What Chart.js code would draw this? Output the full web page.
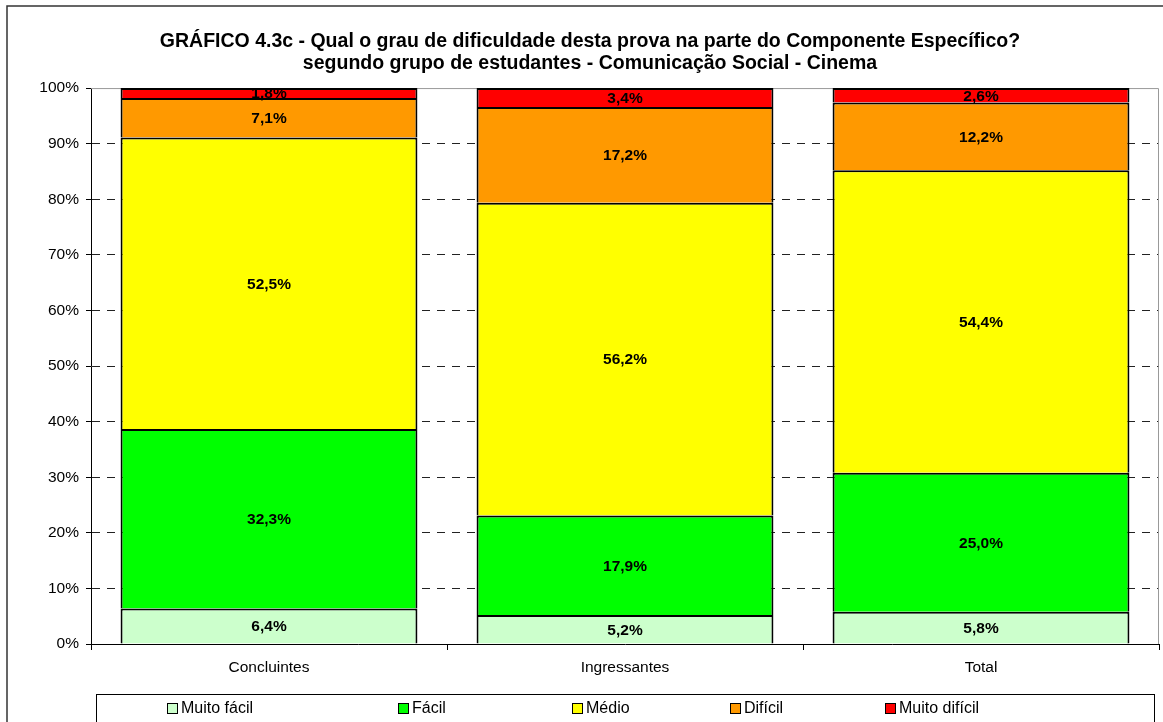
<!DOCTYPE html>
<html>
<head>
<meta charset="utf-8">
<script src="https://cdn.jsdelivr.net/npm/chart.js@4/dist/chart.umd.min.js"></script>
<style>
  html, body { margin: 0; padding: 0; background: #fff; }
  #wrap { width: 1163px; height: 722px; position: relative; }
</style>
</head>
<body>
<div id="wrap"><canvas id="grafico"></canvas></div>
<script>
// dados (percentuais)
var grupos = ["Concluintes", "Ingressantes", "Total"];
var muitoFacil = [6.4, 5.2, 5.8];
var facil = [32.3, 17.9, 25.0];
var medio = [52.5, 56.2, 54.4];
var dificil = [7.1, 17.2, 12.2];
var muitoDificil = [1.8, 3.4, 2.6];
var yTicks = [0, 10, 20, 30, 40, 50, 60, 70, 80, 90, 100];

var FONT = "'Liberation Sans', Arial, sans-serif";
var series = [muitoFacil, facil, medio, dificil, muitoDificil];

function fmt(v) {
  return v.toFixed(1).replace(".", ",") + "%";
}

// gráfico 100% empilhado: cada coluna é normalizada pelo seu total
var totais = grupos.map(function (g, j) {
  return series.reduce(function (s, arr) { return s + arr[j]; }, 0);
});
function normaliza(arr) {
  return arr.map(function (v, j) { return v / totais[j] * 100; });
}

// moldura externa e borda cinza da área de plotagem
var molduraPlugin = {
  id: "moldura",
  beforeDraw: function (chart) {
    var ctx = chart.ctx;
    ctx.save();
    ctx.fillStyle = "#fff";
    ctx.fillRect(0, 0, chart.width, chart.height);
    ctx.strokeStyle = "#333";
    ctx.lineWidth = 1.5;
    ctx.strokeRect(7, 6, chart.width + 10, chart.height + 10);
    ctx.restore();
  },
  beforeDatasetsDraw: function (chart) {
    var a = chart.chartArea;
    var ctx = chart.ctx;
    ctx.save();
    ctx.strokeStyle = "#999";
    ctx.lineWidth = 1;
    ctx.beginPath();
    ctx.moveTo(a.left, a.top + 0.5);
    ctx.lineTo(a.right - 0.5, a.top + 0.5);
    ctx.lineTo(a.right - 0.5, a.bottom);
    ctx.stroke();
    ctx.restore();
  }
};

// rótulos de valor no centro de cada segmento
var rotulosPlugin = {
  id: "rotulos",
  afterDatasetsDraw: function (chart) {
    var ctx = chart.ctx;
    ctx.save();
    ctx.font = "bold 15.5px " + FONT;
    ctx.fillStyle = "#000";
    ctx.textAlign = "center";
    ctx.textBaseline = "middle";
    chart.data.datasets.forEach(function (ds, i) {
      chart.getDatasetMeta(i).data.forEach(function (bar, j) {
        var p = bar.getCenterPoint();
        ctx.fillText(fmt(ds.valores[j]), p.x, p.y + 1);
      });
    });
    ctx.restore();
  }
};

// legenda em caixa, como no original
var legendaPlugin = {
  id: "legenda",
  afterDraw: function (chart) {
    var ctx = chart.ctx;
    var xs = [167, 398, 572, 730, 885];
    var top = 694;
    ctx.save();
    ctx.strokeStyle = "#000";
    ctx.lineWidth = 1;
    ctx.strokeRect(96.5, top + 0.5, 1058, 40);
    ctx.font = "16px " + FONT;
    ctx.textBaseline = "middle";
    ctx.textAlign = "left";
    chart.data.datasets.forEach(function (ds, i) {
      var x = xs[i];
      ctx.fillStyle = ds.backgroundColor;
      ctx.fillRect(x, 703, 10, 10);
      ctx.strokeStyle = "#000";
      ctx.strokeRect(x + 0.5, 703.5, 10, 10);
      ctx.fillStyle = "#000";
      ctx.fillText(ds.label, x + 14, 709);
    });
    ctx.restore();
  }
};

var ctx = document.getElementById("grafico").getContext("2d");
var grafico = new Chart(ctx, {
  type: "bar",
  data: {
    labels: grupos,
    datasets: [
      { label: "Muito fácil", valores: muitoFacil, data: normaliza(muitoFacil), backgroundColor: "#CCFFCC" },
      { label: "Fácil", valores: facil, data: normaliza(facil), backgroundColor: "#00FF00" },
      { label: "Médio", valores: medio, data: normaliza(medio), backgroundColor: "#FFFF00" },
      { label: "Difícil", valores: dificil, data: normaliza(dificil), backgroundColor: "#FF9900" },
      { label: "Muito difícil", valores: muitoDificil, data: normaliza(muitoDificil), backgroundColor: "#FF0000" }
    ]
  },
  options: {
    responsive: true,
    maintainAspectRatio: false,
    animation: false,
    datasets: {
      bar: {
        borderColor: "#000",
        borderWidth: 2,
        barPercentage: 0.834,
        categoryPercentage: 1
      }
    },
    layout: { padding: { left: 21, right: 4, top: 6, bottom: 0 } },
    plugins: {
      legend: { display: false },
      tooltip: { enabled: false },
      title: {
        display: true,
        text: [
          "GRÁFICO 4.3c - Qual o grau de dificuldade desta prova na parte do Componente Específico?",
          "segundo grupo de estudantes - Comunicação Social - Cinema"
        ],
        color: "#000",
        font: { family: FONT, size: 19.5, weight: "bold", lineHeight: 1.13 },
        padding: { top: 25, bottom: 13 }
      }
    },
    scales: {
      x: {
        stacked: true,
        grid: {
          display: true,
          drawOnChartArea: false,
          drawTicks: true,
          tickLength: 6,
          color: "#000"
        },
        border: { display: true, color: "#000", width: 1 },
        ticks: {
          color: "#000",
          padding: 8,
          font: { family: FONT, size: 15.5 }
        },
        afterFit: function (scale) {
          scale.height = 78;
        }
      },
      y: {
        stacked: true,
        min: 0,
        max: 100,
        afterBuildTicks: function (scale) {
          scale.ticks = yTicks.map(function (v) { return { value: v }; });
        },
        grid: {
          color: function (c) {
            if (c.tick && (c.tick.value === 0 || c.tick.value === 100)) return "rgba(0,0,0,0)";
            return "#222";
          },
          tickColor: "#000",
          lineWidth: 1,
          tickLength: 5
        },
        border: { display: true, color: "#000", width: 1, dash: [8, 7] },
        ticks: {
          color: "#000",
          padding: 7,
          font: { family: FONT, size: 15.5 },
          callback: function (v) { return v + "%"; }
        },
        afterFit: function (scale) {
          scale.width = 70;
        }
      }
    }
  },
  plugins: [molduraPlugin, rotulosPlugin, legendaPlugin]
});
</script>
</body>
</html>
